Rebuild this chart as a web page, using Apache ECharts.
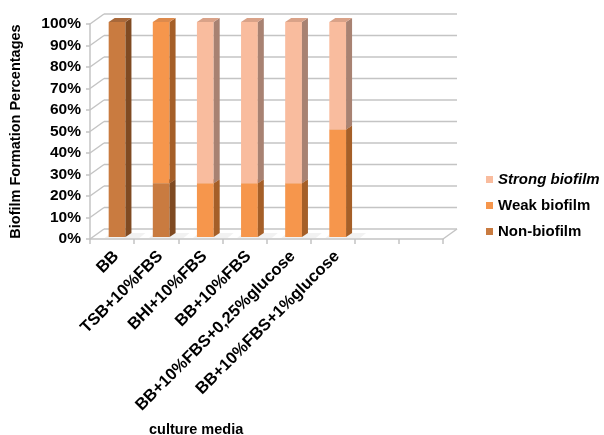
<!DOCTYPE html>
<html>
<head>
<meta charset="utf-8">
<script src="https://cdn.jsdelivr.net/npm/echarts@6/dist/echarts.min.js"></script>
<style>
  html, body { margin: 0; padding: 0; background: #ffffff; }
  #chart { width: 604px; height: 435px; }
</style>
</head>
<body>
<div id="chart"></div>
<script>
// Culture media tested (two trailing empty slots keep the floor width)
const categories = ['BB', 'TSB+10%FBS', 'BHI+10%FBS', 'BB+10%FBS',
  'BB+10%FBS+0,25%glucose', 'BB+10%FBS+1%glucose', '', ''];

// Percentage of isolates in each biofilm class, per medium
const nonBiofilm    = [100, 25,  0,  0,  0,  0];
const weakBiofilm   = [  0, 75, 25, 25, 25, 50];
const strongBiofilm = [  0,  0, 75, 75, 75, 50];

// Value axis ticks
const yTicks = [0, 10, 20, 30, 40, 50, 60, 70, 80, 90, 100];

const FONT = '"Liberation Sans", Arial, Helvetica, sans-serif';

// Oblique depth of the chart box and of each column
const DEPTH = [14, -10];
const BAR_SHIFT = [5, -2];
const BAR_DEPTH = [6, -4];
const BAR_RATIO = 0.38;

const classes = [
  { name: 'Non-biofilm',    values: nonBiofilm,    front: '#C97B40', side: '#7F4A22', top: '#A8683A' },
  { name: 'Weak biofilm',   values: weakBiofilm,   front: '#F6964C', side: '#A55F28', top: '#DD8A4C' },
  { name: 'Strong biofilm', values: strongBiofilm, front: '#F9BC9E', side: '#A88272', top: '#D9A288' }
];

// Build [category, lower, upper] stacks
const running = categories.map(() => 0);
const stacked = classes.map(c => {
  return c.values.map((v, i) => {
    const lo = running[i];
    running[i] += v;
    return [i, lo, lo + v];
  });
});

const gridColor = '#c4c4c4';

function renderWalls(params, api) {
  const cs = params.coordSys;
  const v = api.value(1);
  const y = api.coord([0, v])[1];
  const style = { stroke: gridColor, lineWidth: 1.5, fill: null };
  const children = [
    { type: 'line', shape: { x1: cs.x, y1: y, x2: cs.x + DEPTH[0], y2: y + DEPTH[1] }, style },
    { type: 'line', shape: { x1: cs.x + DEPTH[0], y1: y + DEPTH[1], x2: cs.x + cs.width + DEPTH[0], y2: y + DEPTH[1] }, style }
  ];
  if (v === 0) {
    children.push({ type: 'line', shape: { x1: cs.x + cs.width, y1: y, x2: cs.x + cs.width + DEPTH[0], y2: y + DEPTH[1] }, style });
  }
  return { type: 'group', children };
}

function makeBarRenderer(cls) {
  return function (params, api) {
    const idx = api.value(0), lo = api.value(1), hi = api.value(2);
    if (!(hi > lo)) return null;
    const pLo = api.coord([idx, lo]);
    const pHi = api.coord([idx, hi]);
    const band = api.size([1, 0])[0];
    const w = band * BAR_RATIO;
    const x0 = pLo[0] - w / 2 + BAR_SHIFT[0];
    const x1 = x0 + w;
    const yb = pLo[1] + BAR_SHIFT[1];
    const yt = pHi[1] + BAR_SHIFT[1];
    const dx = BAR_DEPTH[0], dy = BAR_DEPTH[1];
    const children = [];
    if (lo === 0) {
      // soft floor shadow behind the column
      children.push({
        type: 'polygon',
        shape: { points: [[x0 - 4, yb + 1], [x1 + 14, yb + 1], [x1 + 14 + dx, yb + dy], [x0 - 4 + dx, yb + dy]] },
        style: { fill: 'rgba(0,0,0,0.05)' }
      });
    }
    children.push(
      { type: 'rect', shape: { x: x0, y: yt, width: w, height: yb - yt }, style: { fill: cls.front } },
      { type: 'polygon', shape: { points: [[x1, yb], [x1 + dx, yb + dy], [x1 + dx, yt + dy], [x1, yt]] }, style: { fill: cls.side } },
      { type: 'polygon', shape: { points: [[x0, yt], [x0 + dx, yt + dy], [x1 + dx, yt + dy], [x1, yt]] }, style: { fill: cls.top } }
    );
    return { type: 'group', children };
  };
}

const chart = echarts.init(document.getElementById('chart'), null, { renderer: 'canvas' });

const option = {
  animation: false,
  backgroundColor: '#ffffff',
  textStyle: { fontFamily: FONT },
  color: classes.map(c => c.front),
  grid: { left: 86, right: 161, top: 24, bottom: 196, containLabel: false },
  legend: {
    orient: 'vertical',
    left: 481,
    top: 167,
    itemWidth: 7,
    itemHeight: 7,
    itemGap: 11,
    icon: 'rect',
    selectedMode: false,
    textStyle: { fontFamily: FONT, fontSize: 15, fontWeight: 'bold', color: '#000' },
    data: [
      { name: 'Strong biofilm', textStyle: { fontStyle: 'italic' } },
      { name: 'Weak biofilm' },
      { name: 'Non-biofilm' }
    ]
  },
  xAxis: {
    type: 'category',
    data: categories,
    boundaryGap: true,
    axisLine: { show: true, lineStyle: { color: gridColor, width: 1.5 } },
    axisTick: { show: true, length: 5, lineStyle: { color: gridColor, width: 1.5 } },
    axisLabel: {
      interval: 0, rotate: 45, margin: 19, padding: [0, -6, 0, 0],
      fontFamily: FONT, fontSize: 16.5, fontWeight: 'bold', color: '#000'
    },
    splitLine: { show: false }
  },
  yAxis: {
    type: 'value',
    min: yTicks[0],
    max: yTicks[yTicks.length - 1],
    interval: yTicks[1] - yTicks[0],
    name: 'Biofilm Formation Percentages',
    nameLocation: 'middle',
    nameGap: 67,
    nameTextStyle: { fontFamily: FONT, fontSize: 14.5, fontWeight: 'bold', color: '#000' },
    axisLine: { show: true, lineStyle: { color: gridColor, width: 1.5 } },
    axisTick: { show: true, length: 4, lineStyle: { color: gridColor, width: 1.5 } },
    axisLabel: {
      margin: 9, formatter: v => v + '%',
      fontFamily: FONT, fontSize: 15.5, fontWeight: 'bold', color: '#000'
    },
    splitLine: { show: false }
  },
  graphic: [{
    type: 'text',
    left: 149,
    top: 422,
    style: { text: 'culture media', font: 'bold 14.5px ' + FONT, fill: '#000' }
  }],
  series: [
    {
      type: 'custom',
      name: 'walls',
      clip: false,
      silent: true,
      z: 1,
      renderItem: renderWalls,
      data: yTicks.map(v => [0, v])
    }
  ].concat(classes.map((c, k) => ({
    type: 'custom',
    name: c.name,
    clip: false,
    z: 2 + k,
    itemStyle: { color: c.front },
    renderItem: makeBarRenderer(c),
    data: stacked[k]
  })))
};

chart.setOption(option);
</script>
</body>
</html>
